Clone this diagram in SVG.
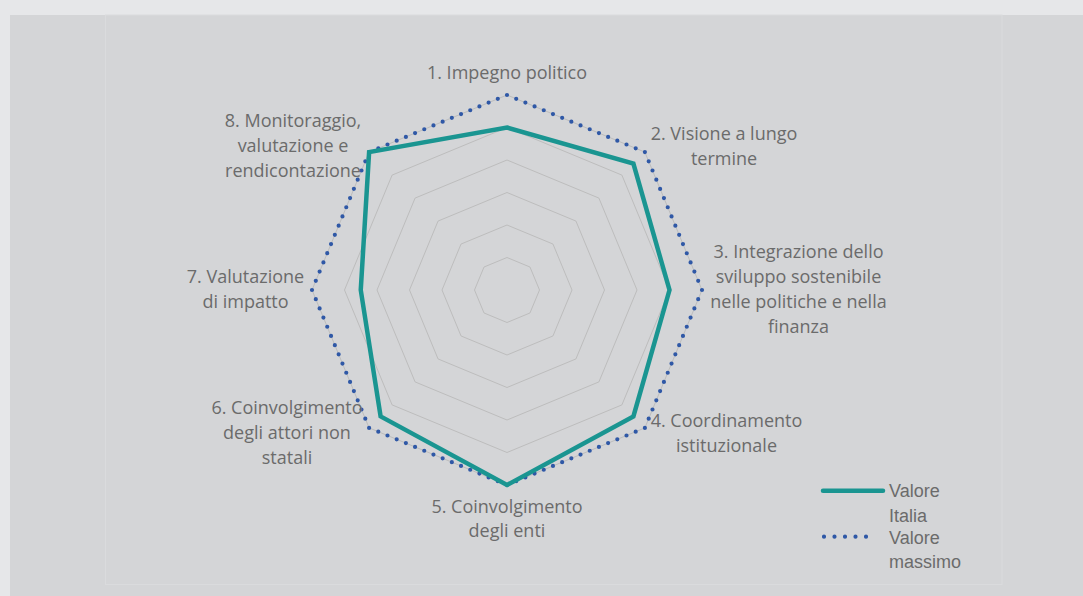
<svg xmlns="http://www.w3.org/2000/svg" width="1083" height="596" viewBox="0 0 1083 596">
<style>
.lbl{font-family:"Open Sans","Liberation Sans",sans-serif;font-size:18px;fill:#6b6b6b;text-anchor:middle}
.leg{font-family:"Liberation Sans","Open Sans",sans-serif;font-size:18px;fill:#6b6b6b}
.grid{fill:none;stroke:#bdbdbd;stroke-width:1}
.italia{fill:none;stroke:#1a9591;stroke-width:4.5;stroke-linejoin:miter}
.max{fill:none;stroke:#2f58a6;stroke-width:4.2;stroke-linecap:round;stroke-dasharray:0 9.95}
</style>
<rect x="0" y="0" width="1083" height="596" fill="#e6e7e9"/>
<rect x="10" y="15" width="1073" height="581" fill="#d4d5d7"/>
<rect x="105.5" y="15" width="896.5" height="569.5" fill="none" stroke="#dadbdd" stroke-width="1"/>
<g id="grid">
<polygon class="grid" points="507,257.5 529.98,267.02 539.5,290 529.98,312.98 507,322.5 484.02,312.98 474.5,290 484.02,267.02"/>
<polygon class="grid" points="507,225 552.96,244.04 572,290 552.96,335.96 507,355 461.04,335.96 442,290 461.04,244.04"/>
<polygon class="grid" points="507,192.5 575.94,221.06 604.5,290 575.94,358.94 507,387.5 438.06,358.94 409.5,290 438.06,221.06"/>
<polygon class="grid" points="507,160 598.92,198.08 637,290 598.92,381.92 507,420 415.08,381.92 377,290 415.08,198.08"/>
<polygon class="grid" points="507,127.5 621.9,175.1 669.5,290 621.9,404.9 507,452.5 392.1,404.9 344.5,290 392.1,175.1"/>
<polygon class="grid" points="507,95 644.89,152.11 702,290 644.89,427.89 507,485 369.11,427.89 312,290 369.11,152.11"/>
</g>
<g id="series-max">
<path class="max" d="M507,95 L644.89,152.11 L702,290 L644.89,427.89 L507,485 L369.11,427.89 L312,290 L369.11,152.11 Z"/>
</g>
<g id="series-italia">
<polygon class="italia" points="507,127.5 633.4,163.6 669.5,290 633.4,416.4 507,485 380.6,416.4 360.75,290 369.11,152.11"/>
</g>
<g id="label-1"><text class="lbl" x="507" y="79">1. Impegno politico</text></g>
<g id="label-2"><text class="lbl" x="724" y="140">2. Visione a lungo</text><text class="lbl" x="724" y="165">termine</text></g>
<g id="label-3"><text class="lbl" x="798.5" y="258">3. Integrazione dello</text><text class="lbl" x="798.5" y="283">sviluppo sostenibile</text><text class="lbl" x="798.5" y="308">nelle politiche e nella</text><text class="lbl" x="798.5" y="333">finanza</text></g>
<g id="label-4"><text class="lbl" x="726.5" y="427">4. Coordinamento</text><text class="lbl" x="726.5" y="451.5">istituzionale</text></g>
<g id="label-5"><text class="lbl" x="507" y="513">5. Coinvolgimento</text><text class="lbl" x="507" y="537">degli enti</text></g>
<g id="label-6"><text class="lbl" x="287" y="414">6. Coinvolgimento</text><text class="lbl" x="287" y="439">degli attori non</text><text class="lbl" x="287" y="464">statali</text></g>
<g id="label-7"><text class="lbl" x="245.5" y="283">7. Valutazione</text><text class="lbl" x="245.5" y="308">di impatto</text></g>
<g id="label-8"><text class="lbl" x="293" y="127">8. Monitoraggio,</text><text class="lbl" x="293" y="152">valutazione e</text><text class="lbl" x="293" y="177">rendicontazione</text></g>
<g id="legend">
<line x1="823" y1="490.7" x2="883" y2="490.7" stroke="#1a9591" stroke-width="4.5" stroke-linecap="round"/>
<text class="leg" x="889" y="497">Valore</text>
<text class="leg" x="889" y="521.5">Italia</text>
<line x1="824" y1="536.7" x2="876.5" y2="536.7" stroke="#2f58a6" stroke-width="4.2" stroke-linecap="round" stroke-dasharray="0 10.5"/>
<text class="leg" x="889" y="543.5">Valore</text>
<text class="leg" x="889" y="567.5">massimo</text>
</g>
</svg>
